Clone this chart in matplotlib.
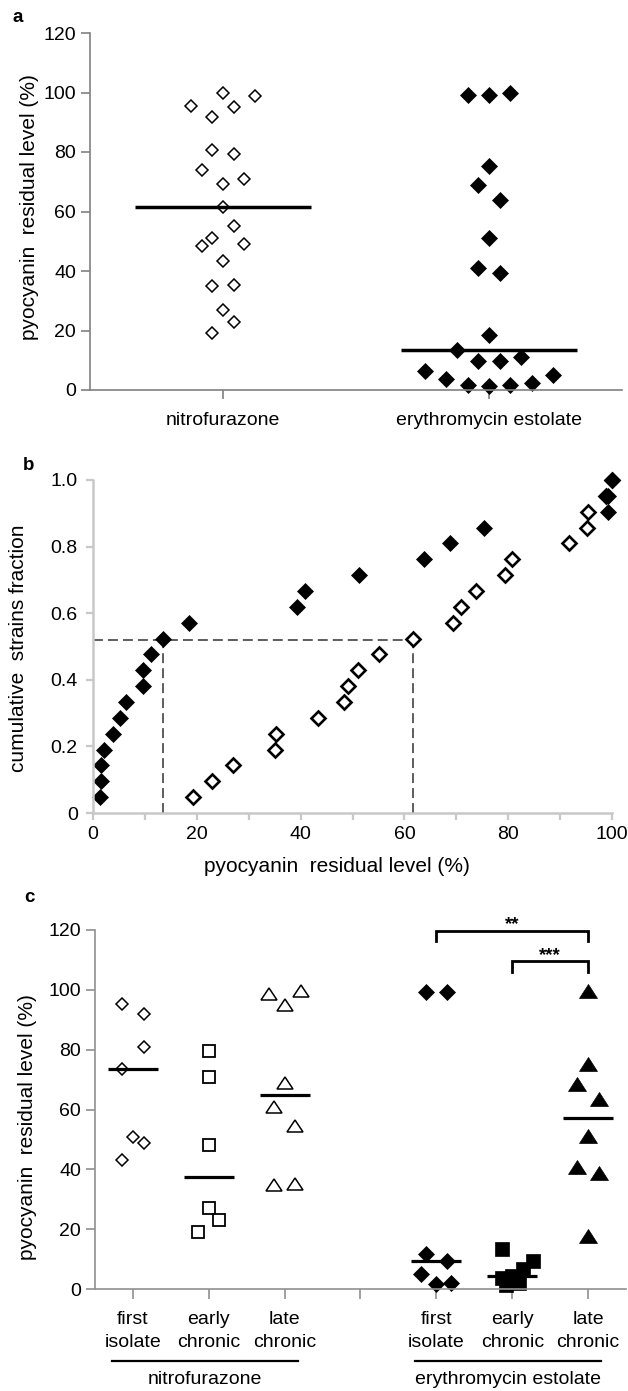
import numpy as np
import matplotlib
matplotlib.use("Agg")
import matplotlib.pyplot as plt
from matplotlib.markers import MarkerStyle
from matplotlib.transforms import Affine2D

plt.rcParams['font.family'] = ['Liberation Sans', 'DejaVu Sans']

# ---- panel a : residual level per strain (%) ----
nitro_vals = [100, 98.9, 95.3, 95.1, 91.7, 80.7, 79.4, 73.8, 71.0, 69.3, 61.6,
              55.1, 51.0, 48.3, 49.1, 43.3, 35.1, 35.3, 27.0, 23.0, 19.3]
nitro_slot = [0, 3, -3, 1, -1, -1, 1, -2, 2, 0, 0,
              1, -1, -2, 2, 0, -1, 1, 0, 1, -1]
ery_vals = [99.2, 99.2, 100, 75.3, 68.8, 63.7, 51.2, 40.9, 39.3, 18.5, 13.5,
            9.6, 9.6, 11.2, 6.4, 3.8, 1.6, 1.3, 1.6, 2.2, 5.2]
ery_slot = [-2, 0, 2, 0, -1, 1, 0, -1, 1, 0, -3,
            -1, 1, 3, -6, -4, -2, 0, 2, 4, 6]
cats_a = ["nitrofurazone", "erythromycin estolate"]

# ---- panel c : by isolate stage ----
stage_labels = ["first\nisolate", "early\nchronic", "late\nchronic"]
drugs = ["nitrofurazone", "erythromycin estolate"]
group_pos = [1, 2, 3, 5, 6, 7]
group_vals = [
    [95.2, 91.9, 80.8, 73.5, 50.9, 48.9, 43.1],
    [79.4, 71.0, 48.2, 27.0, 22.9, 19.2],
    [98.6, 99.7, 95.0, 69.0, 61.0, 54.6, 34.8, 35.0],
    [99.2, 99.2, 11.7, 9.3, 5.1, 1.6, 2.1],
    [13.3, 9.4, 6.6, 4.2, 3.6, 1.9, 1.3],
    [99.7, 75.1, 68.4, 63.4, 51.2, 40.9, 38.9, 17.8],
]
group_slot = [
    [-1, 1, 1, -1, 0, 1, -1],
    [0, 0, 0, 0, 1, -1],
    [-1.5, 1.5, 0, 0, -1, 1, -1, 1],
    [-1, 1, -1, 1, -1.4, 0, 1.4],
    [-1, 2, 1, 0, -1, 0.6, -0.6],
    [0, 0, -1, 1, 0, -1, 1, 0],
]
brackets = [(5, 7, 119.8, "**"), (6, 7, 109.5, "***")]

W, H = 628, 1391
fig = plt.figure(figsize=(W / 100, H / 100), dpi=100)

def px_axes(x0, x1, ytop, ybot):
    return fig.add_axes([x0 / W, 1 - ybot / H, (x1 - x0) / W, (ybot - ytop) / H])

tri = Affine2D().scale(1.3, 1.0)
open_kw = dict(mfc="white", mec="black", ls="none")
fill_kw = dict(mfc="black", mec="black", ls="none")
TICK_FS = 14
LAB_FS = 15

# ================= a =================
ax = px_axes(90, 622, 33, 390)
ax.plot(0 + 0.04 * np.array(nitro_slot), nitro_vals, marker="D", ms=6.4, mew=1.1, **open_kw)
ax.plot(1 + 0.04 * np.array(ery_slot), ery_vals, marker="D", ms=7.9, mew=0.5, **fill_kw, clip_on=False)
for i, v in enumerate([nitro_vals, ery_vals]):
    ax.plot([i - 0.33, i + 0.33], [np.median(v)] * 2, color="black", lw=2.5, solid_capstyle="butt")
ax.set_xlim(-0.5, 1.5)
ax.set_ylim(0, 120)
ax.set_yticks(range(0, 121, 20))
ax.set_xticks([0, 1])
ax.set_xticklabels(cats_a)
for s in ["top", "right"]:
    ax.spines[s].set_visible(False)
for s in ["left", "bottom"]:
    ax.spines[s].set_color("#808080")
    ax.spines[s].set_linewidth(1.2)
ax.tick_params(axis="y", length=6.5, width=1.2, color="#808080", pad=3.5, labelsize=TICK_FS)
ax.tick_params(axis="x", length=6.7, width=1.2, color="#808080", pad=9, labelsize=TICK_FS)
fig.text(30 / W, 1 - 207 / H, "pyocyanin  residual level (%)", rotation=90,
         ha="center", va="center", fontsize=LAB_FS)
fig.text(18 / W, 1 - 18 / H, "a", fontsize=13.5, fontweight="bold", ha="center", va="center")

# ================= b =================
bx = px_axes(93, 612, 480, 813)
n_sorted = np.sort(nitro_vals)
e_sorted = np.sort(ery_vals)
frac = np.arange(1, len(n_sorted) + 1) / len(n_sorted)
half = 0.52
dash = (0, (5.5, 2.8))
bx.plot([0, np.median(nitro_vals)], [half, half], color="#505050", lw=1.3, ls=dash)
bx.plot([np.median(ery_vals)] * 2, [0, half], color="#505050", lw=1.3, ls=dash)
bx.plot([np.median(nitro_vals)] * 2, [0, half], color="#505050", lw=1.3, ls=dash)
bx.plot(n_sorted, frac, marker="D", ms=6.8, mew=1.9, clip_on=False, **open_kw)
bx.plot(e_sorted, frac, marker="D", ms=8.0, mew=0.5, clip_on=False, **fill_kw)
bx.set_xlim(0, 100)
bx.set_ylim(0, 1.0)
bx.set_xticks(range(0, 101, 20))
bx.set_xticks(range(10, 100, 20), minor=True)
bx.set_yticks([0, 0.2, 0.4, 0.6, 0.8, 1.0])
bx.set_yticklabels(["0", "0.2", "0.4", "0.6", "0.8", "1.0"])
for s in ["top", "right"]:
    bx.spines[s].set_visible(False)
for s in ["left", "bottom"]:
    bx.spines[s].set_color("#c8c8c8")
    bx.spines[s].set_linewidth(1.8)
bx.tick_params(axis="both", which="both", length=5, width=1.6, color="#c8c8c8", labelsize=TICK_FS)
bx.tick_params(axis="y", pad=6)
bx.tick_params(axis="x", pad=4.5)
fig.text(19 / W, 1 - 648 / H, "cumulative  strains fraction", rotation=90,
         ha="center", va="center", fontsize=LAB_FS)
fig.text(337 / W, 1 - 867 / H, "pyocyanin  residual level (%)",
         ha="center", va="center", fontsize=LAB_FS)
fig.text(29 / W, 1 - 465 / H, "b", fontsize=13.5, fontweight="bold", ha="center", va="center")

# ================= c =================
cx = px_axes(95, 626, 930, 1289)
styles = [
    dict(marker="D", ms=6.5, mew=1.1, **open_kw),
    dict(marker="s", ms=8.8, mew=1.3, **open_kw),
    dict(marker=MarkerStyle("^", transform=tri), ms=9.0, mew=1.1, **open_kw),
    dict(marker="D", ms=7.8, mew=0.5, **fill_kw),
    dict(marker="s", ms=9.6, mew=0.5, **fill_kw),
    dict(marker=MarkerStyle("^", transform=tri), ms=9.8, mew=0.5, **fill_kw),
]
for pos, vals, slot, st in zip(group_pos, group_vals, group_slot, styles):
    cx.plot(pos + 0.14 * np.array(slot), vals, clip_on=False, **st)
    cx.plot([pos - 0.33, pos + 0.33], [np.median(vals)] * 2, color="black", lw=2.3,
            solid_capstyle="butt", zorder=3)
for g0, g1, top, star in brackets:
    cx.plot([g0, g0, g1, g1], [top - 3.5, top, top, top - 3.5], color="black", lw=2.0,
            clip_on=False, solid_joinstyle="miter")
    cx.text((g0 + g1) / 2, top + 0.6, star, ha="center", va="baseline", fontsize=13.5,
            fontweight="bold")
cx.set_xlim(0.5, 7.5)
cx.set_ylim(0, 120)
cx.set_yticks(range(0, 121, 20))
cx.set_xticks(range(1, 8))
cx.set_xticklabels(stage_labels[:] + [""] + stage_labels, linespacing=1.5)
for s in ["top", "right"]:
    cx.spines[s].set_visible(False)
for s in ["left", "bottom"]:
    cx.spines[s].set_color("#909090")
    cx.spines[s].set_linewidth(1.2)
cx.tick_params(axis="y", length=6.5, width=1.2, color="#909090", pad=3.5, labelsize=TICK_FS)
cx.tick_params(axis="x", length=7.2, width=1.2, color="#909090", pad=8.5, labelsize=TICK_FS)
for k, name in enumerate(drugs):
    p0, p1 = group_pos[3 * k], group_pos[3 * k + 2]
    cx.plot([p0 - 0.28, p1 + 0.17], [0, 0], color="black", lw=1.6,
            transform=cx.get_xaxis_transform() + Affine2D().translate(0, -72),
            clip_on=False)
    cx.text((p0 + p1) / 2 - 0.05, 0, name, ha="center", va="center", fontsize=TICK_FS,
            transform=cx.get_xaxis_transform() + Affine2D().translate(0, -91))
fig.text(28 / W, 1 - 1127 / H, "pyocyanin  residual level (%)", rotation=90,
         ha="center", va="center", fontsize=LAB_FS)
fig.text(29 / W, 1 - 898 / H, "c", fontsize=13.5, fontweight="bold", ha="center", va="center")

fig.savefig("out.png", dpi=100)
